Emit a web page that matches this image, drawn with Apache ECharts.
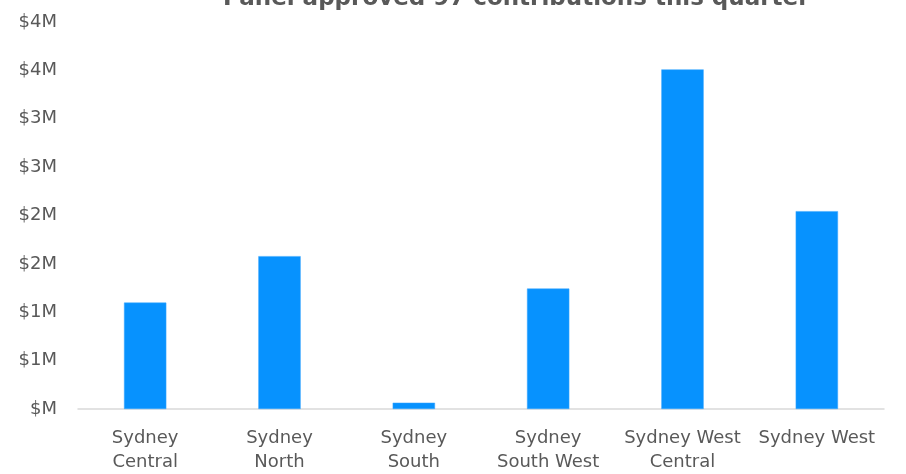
<!DOCTYPE html>
<html>
<head>
<meta charset="utf-8">
<script src="https://cdn.jsdelivr.net/npm/echarts@6/dist/echarts.min.js"></script>
<style>html,body{margin:0;padding:0;background:#fff}#c{width:906px;height:474px}</style>
</head>
<body>
<div id="c"></div>
<script>
const titleText = 'Panel approved 97 contributions this quarter';
const categories = ['Sydney\nCentral', 'Sydney\nNorth', 'Sydney\nSouth', 'Sydney\nSouth West', 'Sydney West\nCentral', 'Sydney West'];
const values = [1100000, 1580000, 65000, 1245000, 3510000, 2045000];
const yTickLabels = ['$M', '$1M', '$1M', '$2M', '$2M', '$3M', '$3M', '$4M', '$4M'];

const chart = echarts.init(document.getElementById('c'), null, {renderer: 'canvas'});
const font = '"DejaVu Sans", sans-serif';
chart.setOption({
  animation: false,
  title: {
    text: titleText,
    left: 218, top: -17,
    textStyle: {fontFamily: font, fontSize: 23, fontWeight: 'bold', color: '#595959'}
  },
  grid: {left: 78, right: 22, top: 22, bottom: 64, containLabel: false},
  xAxis: {
    type: 'category',
    data: categories,
    axisLine: {lineStyle: {color: '#d9d9d9', width: 1.5}},
    axisTick: {show: false},
    axisLabel: {interval: 0, margin: 17, fontFamily: font, fontSize: 18, color: '#595959', lineHeight: 24}
  },
  yAxis: {
    type: 'value',
    min: 0, max: 4000000, interval: 500000,
    splitLine: {show: false},
    axisLine: {show: false},
    axisTick: {show: false},
    axisLabel: {
      margin: 21, fontFamily: font, fontSize: 18, color: '#595959',
      formatter: function (v) { return yTickLabels[Math.round(v / 500000)]; }
    }
  },
  series: [{
    type: 'bar',
    data: values,
    barWidth: '31.5%',
    itemStyle: {color: '#0792FE', borderColor: '#3aa7ff', borderWidth: 0.5}
  }]
});
</script>
</body>
</html>
